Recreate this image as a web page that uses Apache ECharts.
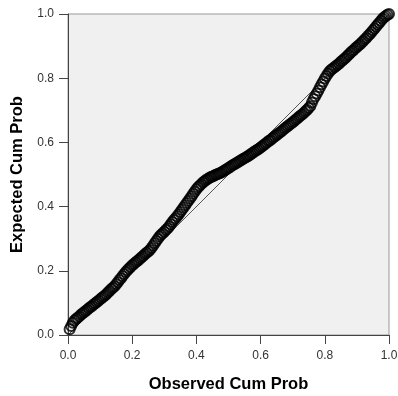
<!DOCTYPE html>
<html>
<head>
<meta charset="utf-8">
<script src="https://cdn.jsdelivr.net/npm/echarts@6/dist/echarts.min.js"></script>
<style>
  html, body { margin: 0; padding: 0; background: #fff; }
  #chart { width: 398px; height: 396px; }
</style>
</head>
<body>
<div id="chart"></div>
<script>
// 观测累计概率（横轴）
const observed = [
  0.005, 0.010, 0.015, 0.020, 0.025, 0.030, 0.035, 0.040, 0.045, 0.050,
  0.055, 0.060, 0.065, 0.070, 0.075, 0.080, 0.085, 0.090, 0.095, 0.100,
  0.105, 0.110, 0.115, 0.120, 0.125, 0.130, 0.135, 0.140, 0.145, 0.150,
  0.155, 0.160, 0.165, 0.170, 0.175, 0.180, 0.185, 0.190, 0.195, 0.200,
  0.205, 0.210, 0.215, 0.220, 0.225, 0.230, 0.235, 0.240, 0.245, 0.250,
  0.255, 0.260, 0.265, 0.270, 0.275, 0.280, 0.285, 0.290, 0.295, 0.300,
  0.305, 0.310, 0.315, 0.320, 0.325, 0.330, 0.335, 0.340, 0.345, 0.350,
  0.355, 0.360, 0.365, 0.370, 0.375, 0.380, 0.385, 0.390, 0.395, 0.400,
  0.405, 0.410, 0.415, 0.420, 0.425, 0.430, 0.435, 0.440, 0.445, 0.450,
  0.455, 0.460, 0.465, 0.470, 0.475, 0.480, 0.485, 0.490, 0.495, 0.500,
  0.505, 0.510, 0.515, 0.520, 0.525, 0.530, 0.535, 0.540, 0.545, 0.550,
  0.555, 0.560, 0.565, 0.570, 0.575, 0.580, 0.585, 0.590, 0.595, 0.600,
  0.605, 0.610, 0.615, 0.620, 0.625, 0.630, 0.635, 0.640, 0.645, 0.650,
  0.655, 0.660, 0.665, 0.670, 0.675, 0.680, 0.685, 0.690, 0.695, 0.700,
  0.705, 0.710, 0.715, 0.720, 0.725, 0.730, 0.735, 0.740, 0.745, 0.750,
  0.755, 0.760, 0.765, 0.770, 0.775, 0.780, 0.785, 0.790, 0.795, 0.800,
  0.805, 0.810, 0.815, 0.820, 0.825, 0.830, 0.835, 0.840, 0.845, 0.850,
  0.855, 0.860, 0.865, 0.870, 0.875, 0.880, 0.885, 0.890, 0.895, 0.900,
  0.905, 0.910, 0.915, 0.920, 0.925, 0.930, 0.935, 0.940, 0.945, 0.950,
  0.955, 0.960, 0.965, 0.970, 0.975, 0.980, 0.985, 0.990, 0.995, 1.000
]
// 期望累计概率（纵轴）
const expected = [
  0.018, 0.028, 0.038, 0.045, 0.050, 0.054, 0.058, 0.063, 0.067, 0.071,
  0.075, 0.079, 0.083, 0.087, 0.090, 0.095, 0.099, 0.103, 0.107, 0.111,
  0.115, 0.119, 0.123, 0.128, 0.133, 0.138, 0.143, 0.147, 0.152, 0.158,
  0.164, 0.171, 0.177, 0.184, 0.190, 0.196, 0.202, 0.207, 0.212, 0.217,
  0.221, 0.226, 0.230, 0.234, 0.238, 0.243, 0.247, 0.252, 0.256, 0.260,
  0.265, 0.271, 0.278, 0.286, 0.293, 0.300, 0.307, 0.312, 0.317, 0.322,
  0.327, 0.332, 0.338, 0.345, 0.352, 0.358, 0.364, 0.370, 0.376, 0.383,
  0.390, 0.397, 0.404, 0.411, 0.418, 0.425, 0.432, 0.440, 0.447, 0.454,
  0.460, 0.465, 0.470, 0.475, 0.479, 0.483, 0.486, 0.489, 0.492, 0.494,
  0.496, 0.499, 0.501, 0.503, 0.505, 0.508, 0.511, 0.514, 0.517, 0.520,
  0.523, 0.527, 0.530, 0.533, 0.536, 0.539, 0.542, 0.545, 0.548, 0.551,
  0.554, 0.557, 0.560, 0.564, 0.567, 0.571, 0.574, 0.577, 0.580, 0.584,
  0.588, 0.592, 0.596, 0.600, 0.604, 0.607, 0.611, 0.615, 0.619, 0.623,
  0.627, 0.631, 0.635, 0.639, 0.643, 0.647, 0.651, 0.655, 0.659, 0.663,
  0.667, 0.671, 0.675, 0.680, 0.684, 0.688, 0.692, 0.697, 0.702, 0.707,
  0.713, 0.724, 0.735, 0.744, 0.752, 0.762, 0.772, 0.781, 0.790, 0.799,
  0.807, 0.815, 0.822, 0.826, 0.830, 0.834, 0.838, 0.842, 0.846, 0.851,
  0.855, 0.860, 0.864, 0.869, 0.874, 0.879, 0.884, 0.888, 0.893, 0.897,
  0.902, 0.906, 0.911, 0.916, 0.921, 0.926, 0.932, 0.937, 0.943, 0.949,
  0.955, 0.961, 0.967, 0.973, 0.979, 0.985, 0.990, 0.994, 0.998, 1.000
]
// 参考线 y = x 的两个端点
const refLine = [[0, 0], [1, 1]]
const tickLabels = ['0.0', '0.2', '0.4', '0.6', '0.8', '1.0']

const points = observed.map((x, i) => [x, expected[i]])

const chart = echarts.init(document.getElementById('chart'))

const axisCommon = {
  type: 'value',
  min: 0,
  max: 1,
  interval: 0.2,
  axisLine: { show: true, lineStyle: { color: '#444', width: 1 } },
  axisTick: { show: true, length: 9, lineStyle: { color: '#444' } },
  axisLabel: {
    color: '#333',
    fontSize: 12,
    fontFamily: 'Liberation Sans',
    formatter: v => tickLabels[Math.round(v * 5)]
  },
  splitLine: { show: false },
  nameLocation: 'middle',
  nameTextStyle: {
    color: '#000',
    fontSize: 16.5,
    fontWeight: 'bold',
    fontFamily: 'Liberation Sans'
  }
}

chart.setOption({
  animation: false,
  grid: {
    left: 68, right: 9, top: 14, bottom: 61,
    outerBoundsMode: 'none',
    show: true,
    backgroundColor: '#f0f0f0',
    borderColor: '#999',
    borderWidth: 1
  },
  xAxis: Object.assign({}, axisCommon, {
    name: 'Observed Cum Prob',
    nameGap: 41,
    axisLabel: Object.assign({}, axisCommon.axisLabel, { margin: 15 })
  }),
  yAxis: Object.assign({}, axisCommon, {
    name: 'Expected Cum Prob',
    nameGap: 40,
    axisLabel: Object.assign({}, axisCommon.axisLabel, { margin: 14 })
  }),
  series: [
    {
      type: 'line',
      data: refLine,
      symbol: 'none',
      lineStyle: { color: '#555', width: 1 },
      z: 1
    },
    {
      type: 'scatter',
      data: points,
      symbol: 'circle',
      symbolSize: 10,
      itemStyle: { color: 'rgba(0,0,0,0)', borderColor: '#000', borderWidth: 2 },
      z: 2
    }
  ]
})
</script>
</body>
</html>
